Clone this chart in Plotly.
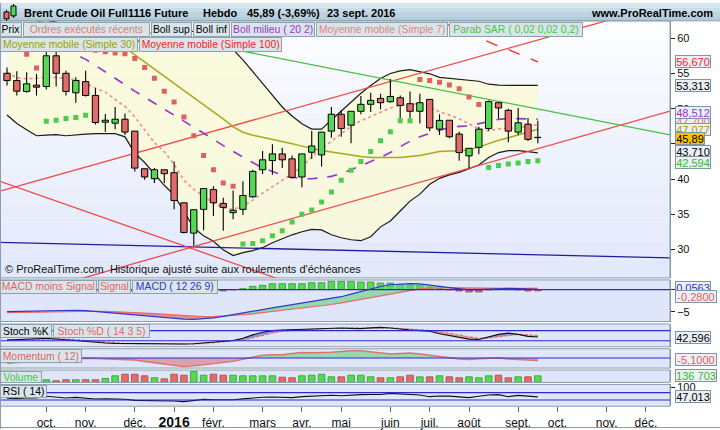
import numpy as np
import pandas as pd
import plotly.graph_objects as go

W, H = 720, 430
PLOT_W = 670
FONT = "Liberation Sans, Arial, sans-serif"

# ---------------- DATA (weekly, Monday dated) ----------------
dates = pd.date_range("2015-09-07", periods=55, freq="7D")

open_ = [55.03, 54.00, 52.45, 53.34, 53.15, 57.52, 55.03, 52.26, 53.85, 51.88,
         48.08, 47.94, 48.50, 46.81, 41.46, 40.05, 41.32, 40.90, 36.62, 32.31,
         35.69, 38.50, 36.53, 35.22, 35.69, 37.47, 41.32, 42.63, 43.57, 42.87,
         40.29, 43.81, 43.43, 46.81, 49.21, 47.66, 49.63, 50.62, 51.46, 51.00,
         51.55, 50.71, 49.63, 51.32, 47.09, 48.36, 46.39, 43.29, 44.51, 47.19,
         50.85, 49.77, 46.67, 47.80, 45.89]
high = [55.87, 55.31, 55.17, 54.93, 58.30, 58.30, 55.40, 54.46, 55.40, 52.92,
        49.25, 50.24, 49.30, 46.81, 41.46, 41.55, 41.32, 42.49, 36.62, 35.64,
        38.64, 38.97, 37.33, 38.36, 39.68, 41.32, 44.00, 44.93, 44.46, 43.34,
        43.57, 46.81, 46.67, 50.24, 49.77, 49.63, 51.79, 52.26, 52.12, 54.23,
        51.88, 52.45, 52.12, 51.32, 49.21, 48.36, 46.72, 44.37, 47.42, 51.18,
        50.85, 49.99, 50.10, 48.69, 48.27]
low = [53.29, 51.88, 52.26, 51.88, 52.73, 53.15, 51.88, 50.85, 51.74, 47.75,
       46.72, 47.09, 46.25, 41.08, 39.91, 39.44, 39.44, 35.69, 32.26, 30.52,
       32.73, 34.75, 32.63, 34.28, 34.89, 37.33, 40.71, 40.62, 41.55, 40.05,
       38.83, 42.87, 41.79, 45.87, 46.01, 45.08, 49.21, 49.54, 49.91, 50.85,
       48.60, 48.69, 47.89, 46.81, 46.25, 45.78, 42.59, 41.55, 43.53, 46.86,
       48.60, 45.22, 46.25, 45.40, 45.08]
close = [54.00, 52.49, 53.53, 53.06, 57.52, 55.03, 52.45, 54.00, 51.88, 48.03,
         48.36, 48.50, 46.67, 41.55, 40.29, 41.32, 40.76, 36.95, 32.40, 35.64,
         38.64, 36.62, 35.97, 35.55, 37.66, 41.08, 42.73, 43.57, 42.73, 40.24,
         43.57, 44.70, 46.67, 49.21, 47.19, 49.63, 50.62, 51.18, 50.85, 51.74,
         50.47, 49.63, 50.85, 47.27, 48.33, 46.01, 43.76, 44.37, 47.09, 51.00,
         50.10, 46.81, 47.99, 45.64, 45.89]
volume = [51000, 51000, 55000, 45000, 55000, 35000, 55000, 55000, 55000, 55000,
          82000, 137000, 170000, 170000, 137000, 96000, 75000, 170000, 149000, 224000,
          149000, 170000, 149000, 149000, 137000, 137000, 137000, 137000, 108000, 96000,
          137000, 149000, 170000, 116000, 116000, 149000, 149000, 116000, 96000, 96000,
          116000, 149000, 116000, 116000, 137000, 116000, 96000, 116000, 96000, 137000,
          149000, 96000, 116000, 116000, 136703]
boll_up = [64.5, 64.0, 63.5, 63.0, 62.6, 62.3, 62.0, 61.6, 61.2, 60.8,
           60.4, 60.0, 59.7, 59.5, 59.8, 59.9, 60.0, 60.3, 61.0, 61.0,
           60.5, 59.8, 59.1, 58.4, 56.94, 55.25, 53.6, 51.9, 50.24, 48.97,
           47.85, 47.1, 47.1, 48.4, 49.68, 50.94, 52.2, 53.3, 54.3, 55.0,
           55.38, 55.55, 55.3, 54.96, 54.46, 54.3, 54.2, 54.04, 53.9, 53.48,
           53.34, 53.31, 53.31, 53.31, 53.313]
boll_low = [49.11, 47.89, 47.0, 46.15, 46.23, 46.30, 46.15, 46.30, 46.37, 46.44,
            46.44, 46.44, 46.0, 43.69, 42.35, 40.66, 39.11, 37.7, 35.31, 33.06,
            31.93, 31.15, 29.96, 29.11, 29.54, 29.82, 30.24, 30.94, 31.5, 32.07,
            32.5, 32.85, 32.77, 32.07, 31.65, 31.37, 31.23, 31.79, 33.2, 34.04,
            35.45, 36.86, 37.85, 39.25, 40.1, 40.59, 40.94, 41.51, 42.0, 43.06,
            43.76, 44.04, 44.04, 43.9, 43.71]
boll_mid = [61.8, 61.3, 60.8, 60.3, 59.8, 59.3, 58.7, 57.7, 57.01, 56.15,
            55.2, 54.3, 53.41, 52.49, 51.65, 50.8, 49.96, 49.11, 48.2, 47.35,
            46.58, 45.66, 44.75, 43.9, 43.13, 42.35, 41.58, 41.08, 40.59, 40.24,
            40.06, 40.03, 40.17, 40.38, 40.8, 41.3, 41.86, 42.49, 43.06, 43.76,
            44.6, 45.4, 46.0, 46.5, 46.93, 47.28, 47.49, 47.56, 47.85, 48.2,
            48.48, 48.62, 48.62, 48.55, 48.512]
sma7 = [55.17, 54.39, 54.25, 54.39, 54.46, 54.46, 54.32, 54.11, 53.62, 52.92,
        52.35, 51.37, 50.31, 48.83, 47.0, 45.17, 43.9, 42.07, 39.82, 38.55,
        37.56, 36.62, 35.92, 35.69, 36.15, 37.0, 37.99, 38.9, 39.82, 40.73,
        41.79, 43.13, 44.32, 45.38, 46.44, 47.49, 48.27, 48.9, 49.54, 50.1,
        50.48, 50.66, 50.7, 50.24, 49.54, 49.11, 48.55, 47.85, 47.14, 46.86,
        47.14, 47.21, 47.28, 47.56, 47.7]
sma30 = [63.5, 63.2, 62.9, 62.6, 62.2, 61.8, 61.4, 61.0, 60.6, 60.2,
         59.7, 59.2, 58.7, 57.66, 56.63, 55.62, 54.6, 53.58, 52.56, 51.54,
         50.52, 49.54, 48.55, 47.42, 46.65, 46.23, 45.94, 45.66, 45.38, 45.03,
         44.68, 44.32, 44.04, 43.83, 43.62, 43.34, 43.2, 43.06, 43.06, 43.06,
         43.06, 43.2, 43.34, 43.62, 43.9, 43.97, 44.0, 44.18, 44.54, 45.03,
         45.52, 45.87, 46.3, 46.72, 47.077]
sma100 = [None] * 42 + [63.6, 63.0, 62.5, 61.9, 61.3, 60.7, 60.1, 59.5, 58.9,
                        58.4, 57.8, 57.2, 56.67]
sar = [61.0, 59.5, 57.75, 55.77, 48.23, 48.37, 48.59, 48.73, 49.07, 58.3,
       58.1, 57.9, 57.8, 57.14, 55.87, 54.32, 52.49, 50.94, 48.83, 46.15,
       43.34, 41.32, 39.44, 38.97, 30.76, 30.84, 31.22, 31.92, 32.63, 33.9,
       34.98, 35.59, 36.72, 38.17, 39.82, 41.23, 42.49, 43.9, 45.45, 46.72,
       48.27, 48.27, 54.14, 54.0, 53.77, 53.38, 52.82, 51.66, 50.58, 41.65,
       41.93, 42.12, 42.26, 42.49, 42.594]
macd = [-4.95, -4.9, -4.85, -4.8, -4.7, -4.6, -4.6, -4.65, -4.75, -4.95,
        -5.1, -5.25, -5.4, -5.6, -5.8, -6.0, -6.2, -6.45, -6.65, -6.7,
        -6.55, -6.35, -6.05, -5.7, -5.35, -4.95, -4.5, -4.1, -3.75, -3.45,
        -3.15, -2.8, -2.45, -2.05, -1.6, -1.0, -0.4, 0.2, 0.7, 1.1,
        1.3, 1.35, 1.3, 1.1, 0.75, 0.45, 0.15, -0.05, 0.0, 0.15,
        0.25, 0.3, 0.25, 0.15, 0.0563]
signal = [-5.2, -5.15, -5.1, -5.05, -5.0, -4.95, -4.9, -4.88, -4.87, -4.88,
          -4.92, -4.98, -5.06, -5.16, -5.28, -5.42, -5.57, -5.73, -5.9, -6.05,
          -6.1, -6.1, -6.0, -5.85, -5.65, -5.45, -5.2, -4.95, -4.7, -4.45,
          -4.2, -3.95, -3.65, -3.35, -3.0, -2.6, -2.2, -1.75, -1.3, -0.9,
          -0.5, -0.15, 0.15, 0.35, 0.45, 0.45, 0.4, 0.35, 0.3, 0.25,
          0.2, 0.22, 0.26, 0.3, 0.336]
macd_hist = [0.3, 0.25, 0.25, 0.25, 0.3, 0.35, 0.3, 0.2, 0.1, -0.05,
             -0.15, -0.2, -0.25, -0.3, -0.35, -0.4, -0.45, -0.55, -0.8, -0.8,
             -0.55, -0.4, -0.3, -0.05, 0.22, 0.74, 0.96, 1.34, 1.34, 1.34,
             1.34, 1.56, 1.56, 1.85, 1.85, 1.85, 1.7, 1.7, 1.47, 1.47,
             1.18, 0.96, 0.96, 0.58, 0.22, -0.05, -0.31, -0.54, -0.54, -0.05,
             0.05, 0.05, -0.05, -0.31, -0.28]
stoch_k = [24, 27, 30, 32, 35, 31, 26, 22, 15, 10,
           7, 5, 4, 2, 1, 0, 0, 0, 1, 3,
           8, 16, 19, 22, 35, 55, 70, 80, 84, 86,
           88, 90, 93, 96, 95, 93, 92, 96, 99, 95,
           88, 84, 80, 76, 62, 52, 38, 30, 28, 45,
           58, 65, 58, 46, 42.596]
stoch_d = [26, 27, 28, 30, 32, 32, 30, 27, 22, 16,
           11, 7, 5, 4, 3, 2, 1, 0.5, 0.5, 1.5,
           4, 9, 14, 19, 25, 37, 52, 66, 76, 82,
           85, 87, 90, 92, 94, 94, 93, 93, 95, 96,
           94, 90, 86, 81, 74, 65, 54, 43, 35, 36,
           44, 53, 58, 56, 50]
momentum = [-11, -10, -8, -6, -3, -2, -1, -0.5, -0.5, -1.2,
            -1.8, -2.5, -3, -4, -7, -10, -12.5, -15, -17.5, -16.5,
            -14, -11.5, -9, -6.8, -2.5, 2, 5.5, 6.6, 6.6, 9,
            11, 10.4, 10.5, 11.5, 13, 14.6, 14.6, 12, 10, 8,
            9, 10, 8, 6, 3.5, 0.5, -2, -3.4, -1.5, 0,
            0, -2, -3.4, -4, -5.1]
rsi = [40, 38, 41, 41, 50, 46, 41, 44, 40, 35,
       36, 37, 34, 28, 27, 29, 28, 24, 21, 28,
       33, 31, 30, 31, 36, 42, 45, 46, 46, 43,
       48, 50, 52, 56, 53, 57, 59, 60, 60, 66,
       62, 60, 57, 48, 52, 51, 46, 43, 50, 57,
       59, 48, 55, 50, 47.013]

# drawn trend lines (anchor dates, anchor prices)
trend_red_up_x = ["2015-09-02 00:21", "2016-12-22 03:00"]
trend_red_up_y = [38.27, 65.04]
trend_red_low_x = ["2015-09-02 00:21", "2016-12-22 03:00"]
trend_red_low_y = [22.56, 49.66]
trend_red_down_x = ["2015-09-02 00:21", "2016-04-02 15:00"]
trend_red_down_y = [39.68, 24.72]
trend_green_x = ["2015-12-17 19:00", "2016-12-22 03:00"]
trend_green_y = [60.77, 46.27]
trend_blue_x = ["2015-09-02 00:21", "2016-12-22 03:00"]
trend_blue_y = [30.99, 28.79]

month_ticks = ["2015-10-05", "2015-11-02", "2015-12-07", "2016-01-04", "2016-02-01",
               "2016-03-07", "2016-04-04", "2016-05-02", "2016-06-06", "2016-07-04",
               "2016-08-01", "2016-09-05", "2016-10-03", "2016-11-07", "2016-12-05"]
month_labels = ["oct.", "nov.", "déc.", "<b><span style='font-size:14px'>2016</span></b>",
                "févr.", "mars", "avr.", "mai", "juin", "juil.", "août", "sept.",
                "oct.", "nov.", "déc."]
price_ticks = [30, 35, 40, 45, 50, 55, 60]

X_RANGE = ["2015-09-02 00:21", "2016-12-22 03:00"]

GREEN = "#55d955"
RED = "#e36b6b"
DAY_MS = 86400000

# ---------------- FIGURE ----------------
fig = go.Figure()
o = np.array(open_); c = np.array(close)

# Bollinger band fill + lines
fig.add_trace(go.Scatter(x=dates, y=boll_low, mode="lines", line=dict(color="#1a1a1a", width=1.2),
                         yaxis="y", hoverinfo="skip"))
fig.add_trace(go.Scatter(x=dates, y=boll_up, mode="lines", line=dict(color="#1a1a1a", width=1.2),
                         fill="tonexty", fillcolor="rgba(250,250,212,0.8)", yaxis="y", hoverinfo="skip"))

# trend lines
for tx, ty, col in [(trend_blue_x, trend_blue_y, "#1f1f9a"),
                    (trend_red_up_x, trend_red_up_y, "#f04848"),
                    (trend_red_low_x, trend_red_low_y, "#f04848"),
                    (trend_red_down_x, trend_red_down_y, "#f04848"),
                    (trend_green_x, trend_green_y, "#44c044")]:
    fig.add_trace(go.Scatter(x=tx, y=ty, mode="lines", line=dict(color=col, width=1.3),
                             yaxis="y", hoverinfo="skip"))

# moving averages
fig.add_trace(go.Scatter(x=dates, y=sma30, mode="lines", line=dict(color="#a8a818", width=1.5), yaxis="y"))
fig.add_trace(go.Scatter(x=dates, y=sma7, mode="lines", line=dict(color="#f09090", width=1.7, dash="3px,3px"), yaxis="y"))
fig.add_trace(go.Scatter(x=dates, y=boll_mid, mode="lines", line=dict(color="#9933cc", width=1.6, dash="10px,10px"), yaxis="y"))
fig.add_trace(go.Scatter(x=dates, y=sma100, mode="lines", line=dict(color="#f03030", width=1.4, dash="12px,12px"), yaxis="y"))

# candles on overlay axis
body_base = np.minimum(o, c)
body_h = np.maximum(np.abs(c - o), 0.04)
body_col = [GREEN if cc > oo else (RED if cc < oo else "#000000") for oo, cc in zip(open_, close)]
fig.add_trace(go.Bar(x=dates, y=body_h, base=body_base, width=4.5 * DAY_MS,
                     marker=dict(color=body_col, line=dict(color="#000", width=1)), yaxis="y7"))
wx, wy = [], []
for d, oo, hh, ll, cc in zip(dates, open_, high, low, close):
    top, bot = max(oo, cc), min(oo, cc)
    wx += [d, d, None, d, d, None]
    wy += [hh, top, None, bot, ll, None]
fig.add_trace(go.Scatter(x=wx, y=wy, mode="lines", line=dict(color="#000", width=1.1), yaxis="y7"))

# parabolic SAR
sar_col = ["#e06060" if s > cc else "#4ccc4c" for s, cc in zip(sar, close)]
fig.add_trace(go.Scatter(x=dates, y=sar, mode="markers",
                         marker=dict(symbol="square", size=5, color=sar_col), yaxis="y7"))

# ---- MACD panel ----
m = np.array(macd); s = np.array(signal)
fig.add_trace(go.Bar(x=dates, y=macd_hist, width=4.7 * DAY_MS, yaxis="y2",
                     marker=dict(color=[GREEN if v >= 0 else RED for v in macd_hist],
                                 line=dict(color=["#2f9a2f" if v >= 0 else "#b04444" for v in macd_hist], width=0.8))))
fig.add_trace(go.Scatter(x=dates, y=s, mode="lines", line=dict(width=0), yaxis="y2"))
fig.add_trace(go.Scatter(x=dates, y=np.maximum(m, s), mode="lines", line=dict(width=0), yaxis="y2",
                         fill="tonexty", fillcolor="rgba(95,210,120,0.6)"))
fig.add_trace(go.Scatter(x=dates, y=s, mode="lines", line=dict(width=0), yaxis="y2"))
fig.add_trace(go.Scatter(x=dates, y=np.minimum(m, s), mode="lines", line=dict(width=0), yaxis="y2",
                         fill="tonexty", fillcolor="rgba(225,95,95,0.65)"))
fig.add_trace(go.Scatter(x=dates, y=signal, mode="lines", line=dict(color="#e86a6a", width=1.2), yaxis="y2"))
fig.add_trace(go.Scatter(x=dates, y=macd, mode="lines", line=dict(color="#3636c8", width=1.2), yaxis="y2"))

# ---- Stochastic panel ----
k = np.array(stoch_k, dtype=float); dd = np.array(stoch_d, dtype=float)
fig.add_trace(go.Scatter(x=dates, y=dd, mode="lines", line=dict(width=0), yaxis="y3"))
fig.add_trace(go.Scatter(x=dates, y=np.maximum(k, dd), mode="lines", line=dict(width=0), yaxis="y3",
                         fill="tonexty", fillcolor="rgba(90,105,225,0.65)"))
fig.add_trace(go.Scatter(x=dates, y=dd, mode="lines", line=dict(width=0), yaxis="y3"))
fig.add_trace(go.Scatter(x=dates, y=np.minimum(k, dd), mode="lines", line=dict(width=0), yaxis="y3",
                         fill="tonexty", fillcolor="rgba(228,110,110,0.6)"))
fig.add_trace(go.Scatter(x=dates, y=stoch_d, mode="lines", line=dict(color="#e87070", width=1.2, dash="3px,2px"), yaxis="y3"))
fig.add_trace(go.Scatter(x=dates, y=stoch_k, mode="lines", line=dict(color="#111", width=1.1), yaxis="y3"))

# ---- Momentum panel ----
mo = np.array(momentum, dtype=float)
fig.add_trace(go.Scatter(x=dates, y=np.maximum(mo, 0), mode="lines", line=dict(width=0), yaxis="y4",
                         fill="tozeroy", fillcolor="rgba(95,205,115,0.55)"))
fig.add_trace(go.Scatter(x=dates, y=np.minimum(mo, 0), mode="lines", line=dict(width=0), yaxis="y4",
                         fill="tozeroy", fillcolor="rgba(215,105,105,0.55)"))
fig.add_trace(go.Scatter(x=dates, y=momentum, mode="lines", line=dict(color="#e07070", width=1.4), yaxis="y4"))

# ---- Volume panel ----
vcol = [GREEN if cc > oo else (RED if cc < oo else GREEN) for oo, cc in zip(open_, close)]
vline = ["#2f9a2f" if col == GREEN else "#b04444" for col in vcol]
fig.add_trace(go.Bar(x=dates, y=volume, width=4.7 * DAY_MS, yaxis="y5",
                     marker=dict(color=vcol, line=dict(color=vline, width=0.8))))

# ---- RSI panel ----
fig.add_trace(go.Scatter(x=dates, y=rsi, mode="lines", line=dict(color="#111", width=1.1), yaxis="y6"))

# ---------------- LAYOUT ----------------
def pp(px):
    return 1 - px / H

DOM = {"y": (18, 277.5), "y2": (279.5, 321.5), "y3": (324, 347),
       "y4": (349, 368.5), "y5": (370.5, 383), "y6": (385, 407)}

axis_common = dict(side="right", anchor="x", showgrid=False, zeroline=False, showline=True,
                   linecolor="#7d92a2", linewidth=1, ticks="outside", ticklen=4, tickcolor="#222",
                   tickfont=dict(size=11, color="#111", family=FONT))

layout = dict(
    width=W, height=H, margin=dict(l=0, r=W - PLOT_W, t=0, b=0, pad=0),
    paper_bgcolor="white", plot_bgcolor="rgba(0,0,0,0)", showlegend=False,
    barmode="overlay", font=dict(family=FONT, size=11, color="#000"),
    xaxis=dict(domain=[0, 1], anchor="y6", type="date", range=X_RANGE,
               tickvals=month_ticks, ticktext=month_labels, ticks="outside", ticklen=5,
               tickcolor="#666", showgrid=False, zeroline=False, showline=False,
               tickfont=dict(size=12, color="#111", family=FONT)),
    yaxis=dict(domain=[pp(DOM["y"][1]), pp(DOM["y"][0])], range=[25.94, 62.49],
               tickvals=price_ticks, **axis_common),
    yaxis7=dict(overlaying="y", anchor="x", range=[25.94, 62.49], visible=False),
    yaxis2=dict(domain=[pp(DOM["y2"][1]), pp(DOM["y2"][0])], range=[-7.19, 2.19],
                tickvals=[-5, 0], **axis_common),
    yaxis3=dict(domain=[pp(DOM["y3"][1]), pp(DOM["y3"][0])], range=[-15, 119],
                tickvals=[], **axis_common),
    yaxis4=dict(domain=[pp(DOM["y4"][1]), pp(DOM["y4"][0])], range=[-20.4, 18.6],
                tickvals=[], **axis_common),
    yaxis5=dict(domain=[pp(DOM["y5"][1]), pp(DOM["y5"][0])], range=[0, 255000],
                tickvals=[], **axis_common),
    yaxis6=dict(domain=[pp(DOM["y6"][1]), pp(DOM["y6"][0])], range=[-4.05, 114.86],
                tickvals=[100], **axis_common),
)
fig.update_layout(**layout)

shapes = []
XR = W / PLOT_W
# title bar gradient
tb_cols = [(214, 230, 238), (200, 221, 232), (188, 212, 226), (176, 203, 219)]
for i, col in enumerate(tb_cols):
    shapes.append(dict(type="rect", xref="paper", yref="paper", x0=0, x1=XR,
                       y0=pp(18 * (i + 1) / 4), y1=pp(18 * i / 4),
                       fillcolor="rgb(%d,%d,%d)" % col, line=dict(width=0), layer="below"))
shapes.append(dict(type="line", xref="paper", yref="paper", x0=0, x1=XR, y0=pp(18), y1=pp(18),
                   line=dict(color="#8da2ae", width=1), layer="above"))
# main panel gradient background
nb = 14
top, bot = DOM["y"]
c0 = np.array([252, 253, 255]); c1 = np.array([226, 233, 251])
for i in range(nb):
    col = c0 + (c1 - c0) * i / (nb - 1)
    shapes.append(dict(type="rect", xref="paper", yref="paper", x0=0, x1=1,
                       y0=pp(top + (bot - top) * (i + 1) / nb), y1=pp(top + (bot - top) * i / nb),
                       fillcolor="rgb(%d,%d,%d)" % tuple(col.astype(int)), line=dict(width=0), layer="below"))
# sub panel backgrounds + frames
for key in ["y2", "y3", "y4", "y5", "y6"]:
    t, b = DOM[key]
    shapes.append(dict(type="rect", xref="paper", yref="paper", x0=0, x1=1, y0=pp(b), y1=pp(t),
                       fillcolor="#dfe6f9", line=dict(width=0), layer="below"))
for key in ["y", "y2", "y3", "y4", "y5", "y6"]:
    t, b = DOM[key]
    shapes.append(dict(type="rect", xref="paper", yref="paper", x0=0, x1=1, y0=pp(b), y1=pp(t),
                       fillcolor="rgba(0,0,0,0)", line=dict(color="#8a9eab", width=1), layer="above"))
# level lines
for yref, val in [("y2", 0), ("y3", 20), ("y3", 80), ("y4", 0), ("y6", 30), ("y6", 70)]:
    shapes.append(dict(type="line", xref="paper", x0=0, x1=1, yref=yref, y0=val, y1=val,
                       line=dict(color="#2b2bd0", width=1.1), layer="above"))
# outer border lines
shapes.append(dict(type="line", xref="paper", yref="paper", x0=0, x1=XR, y0=pp(428.5), y1=pp(428.5),
                   line=dict(color="#8a9eab", width=1)))
shapes.append(dict(type="line", xref="paper", yref="paper", x0=0.0008, x1=0.0008, y0=0, y1=1,
                   line=dict(color="#8a9eab", width=1)))
# header icon (mini candles)
for x0, x1, y0, y1, fc in [(4, 9, 9, 16, "#e36b6b"), (11, 16, 3, 13, "#55d955")]:
    shapes.append(dict(type="line", xref="paper", yref="paper", x0=(x0 + x1) / 2 / PLOT_W,
                       x1=(x0 + x1) / 2 / PLOT_W, y0=pp(y0 - 2), y1=pp(y1 + 2),
                       line=dict(color="#000", width=1)))
    shapes.append(dict(type="rect", xref="paper", yref="paper", x0=x0 / PLOT_W, x1=x1 / PLOT_W,
                       y0=pp(y1), y1=pp(y0), fillcolor=fc, line=dict(color="#000", width=1)))
fig.update_layout(shapes=shapes)

# ---------------- ANNOTATIONS ----------------
def header(text, xpx, anchor="left"):
    fig.add_annotation(xref="paper", yref="paper", x=xpx / PLOT_W, y=pp(10.5), xanchor=anchor,
                       yanchor="middle", text="<b>%s</b>" % text, showarrow=False,
                       font=dict(size=11, color="#000", family=FONT))

header("Brent Crude Oil Full1116 Future", 22)
header("Hebdo", 201)
header("45,89 (-3,69%)", 245)
header("23 sept. 2016", 325)
header("www.ProRealTime.com", 715, "right")

LEG_FS = 10.4


def box(text, left, right, top, bottom, color):
    fig.add_annotation(xref="paper", yref="paper", x=left / PLOT_W, y=pp(top), xanchor="left",
                       yanchor="top", text=text, showarrow=False,
                       font=dict(size=LEG_FS, color=color, family=FONT),
                       bgcolor="#d9e5eb", bordercolor="#8ea2ae", borderwidth=1, borderpad=0,
                       width=right - left - 2, height=bottom - top - 2, align="center", valign="middle")

legend_row1 = [("Prix", 0, 21.7, "#000"), ("Ordres exécutés récents", 22.7, 149.3, "#e27777"),
               ("Boll sup", 150.7, 191.7, "#000"), ("Boll inf", 193.3, 230, "#000"),
               ("Boll milieu ( 20 2)", 230.7, 315, "#9933cc"),
               ("Moyenne mobile (Simple 7)", 316, 448.3, "#e88080"),
               ("Parab SAR ( 0,02 0,02 0,2)", 449.3, 583.3, "#44c844")]
for t, l, r, col in legend_row1:
    box(t, l, r, 19.5, 34, col)
legend_row2 = [("Moyenne mobile (Simple 30)", 0, 138.3, "#a0a000"),
               ("Moyenne mobile (Simple 100)", 139.3, 282.7, "#ff2020")]
for t, l, r, col in legend_row2:
    box(t, l, r, 34.5, 49, col)
sub_legends = [("MACD moins Signal", 0, 96.7, 279.5, 293, "#e06666"),
               ("Signal", 98, 130.7, 279.5, 293, "#e06666"),
               ("MACD ( 12 26 9)", 131.7, 217.3, 279.5, 293, "#3333cc"),
               ("Stoch %K", 0, 51.7, 324.5, 338.5, "#000"),
               ("Stoch %D ( 14 3 5)", 53, 150, 324.5, 338.5, "#e06666"),
               ("Momentum ( 12)", 0, 81.7, 349.5, 363.5, "#e06666"),
               ("Volume", 0, 41.7, 371, 383, "#44c844"),
               ("RSI ( 14)", 0, 47.3, 385.5, 398.5, "#000")]
for t, l, r, tp, bt, col in sub_legends:
    box(t, l, r, tp, bt, col)

fig.add_annotation(xref="paper", yref="paper", x=3 / PLOT_W, y=pp(269), xanchor="left", yanchor="middle",
                   text="© ProRealTime.com  Historique ajusté suite aux roulements d'échéances",
                   showarrow=False, font=dict(size=11, color="#111", family=FONT))


def rlabel(text, yref, yval, color, yshift=0, bg="#eaf0f6", w=34):
    fig.add_annotation(xref="paper", x=1, xshift=5, xanchor="left", yref=yref, y=yval,
                       yanchor="middle", yshift=yshift, text=text, showarrow=False,
                       font=dict(size=11, color=color, family=FONT), bgcolor=bg,
                       bordercolor="#7f95a5", borderwidth=1, borderpad=0, width=w, height=11)

rlabel("56,670", "y", 56.67, "#ff2020")
rlabel("53,313", "y", 53.313, "#000")
rlabel("47,700", "y", 47.7, "#f07070", 3)
rlabel("48,512", "y", 48.512, "#9933cc", 7)
rlabel("47,077", "y", 47.077, "#a0a000", 0)
rlabel("45,89", "y", 45.89, "#000", -1, bg="#f5c400", w=28)
rlabel("43,710", "y", 43.71, "#000", 1)
rlabel("42,594", "y", 42.594, "#33bb33", -2)
rlabel("0,0563", "y2", 0.0563, "#3333cc", 2)
rlabel("-0,2800", "y2", -0.28, "#e06060", -6, w=40)
rlabel("42,596", "y3", 42.596, "#000", -1)
rlabel("-5,1000", "y4", -5.1, "#e06060", 1, w=40)
rlabel("136 703", "y5", 136703, "#33bb33", 0, w=40)
rlabel("47,013", "y6", 47.013, "#000", 0)

fig.write_html("out.html", config={"displayModeBar": False, "staticPlot": True},
               post_script="document.body.style.margin='0px';document.body.style.overflow='hidden';")
